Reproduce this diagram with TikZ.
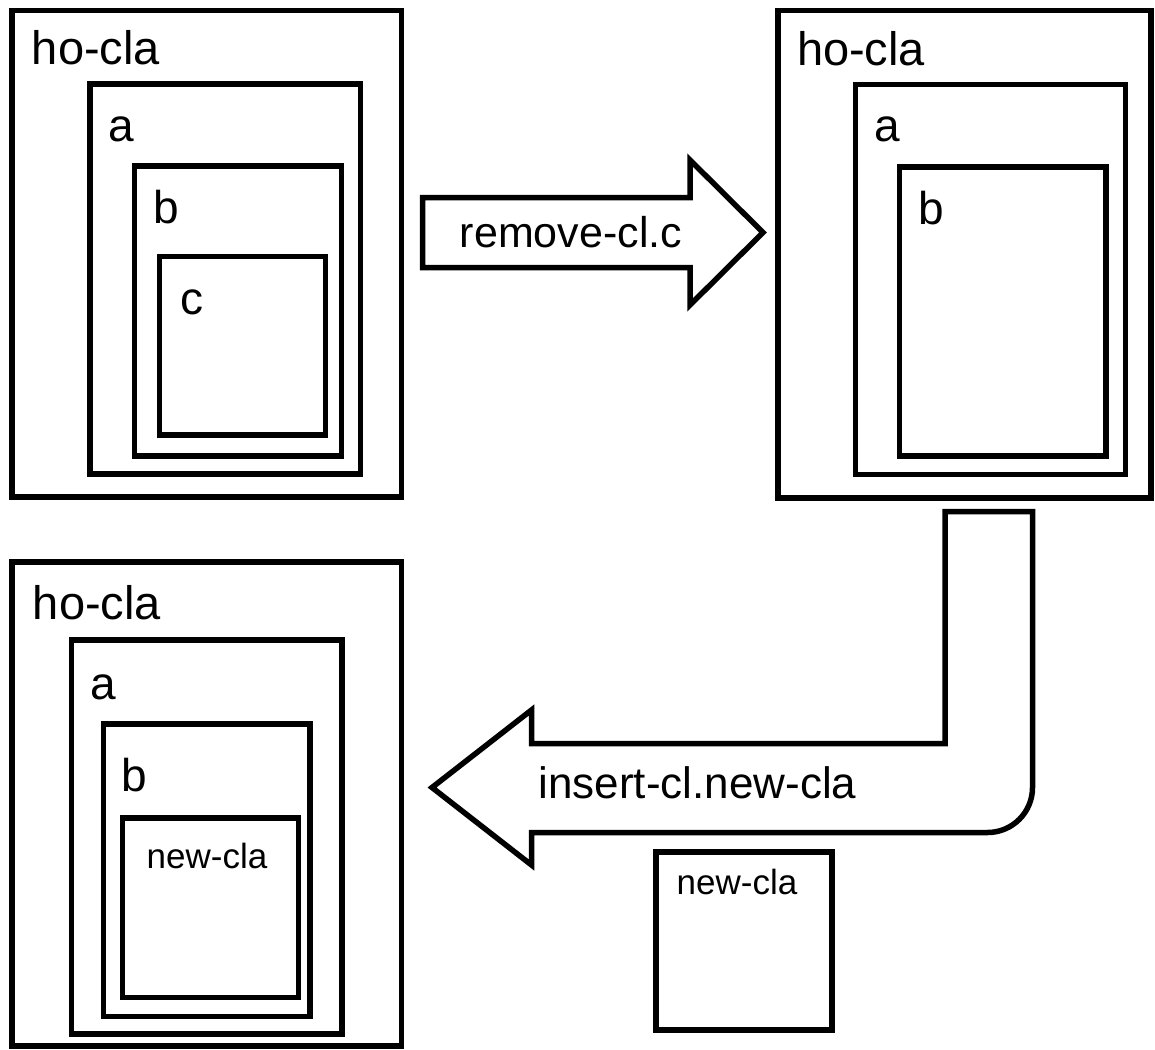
\documentclass[tikz,border=0pt]{standalone}
\usepackage{fontspec}
\setmainfont{Liberation Sans}
\usetikzlibrary{fit}
\begin{document}
\begin{tikzpicture}[x=1pt,y=-1pt,
  box/.style={draw=black,line width=5.5pt,inner sep=0pt,outer sep=0pt,rectangle},
  bigarrow/.style={draw=black,line width=5.5pt,line join=miter,fill=white},
  lbl/.style={anchor=base,inner sep=0pt,font=\fontsize{46}{50}\selectfont},
  holbl/.style={anchor=base,inner sep=0pt,font=\fontsize{47}{52}\selectfont},
  arrowlbl/.style={anchor=base,inner sep=0pt,font=\fontsize{43}{48}\selectfont},
  smalllbl/.style={anchor=base,inner sep=0pt,font=\fontsize{35}{40}\selectfont}]
\useasboundingbox (0,0) rectangle (1155,1049);

% top-left group
\node[box,fit={(12,10.5) (401.5,497)}] (ho1) {};
\node[box,fit={(90,84) (360.5,474)}] (a1) {};
\node[box,fit={(134.5,166) (341.5,456)}] (b1) {};
\node[box,fit={(159.5,256.5) (325.5,435)}] (c1) {};
\node[holbl] (ho1l) at (96,64) {ho-cla};
\node[lbl] (a1l) at (121.5,141) {a};
\node[lbl] (b1l) at (166.5,223) {b};
\node[lbl] (c1l) at (191.5,314) {c};

% top-right group
\node[box,fit={(778,10.5) (1151,498)}] (ho2) {};
\node[box,fit={(855.5,84.5) (1125.5,474.5)}] (a2) {};
\node[box,fit={(899.5,167) (1106,456)}] (b2) {};
\node[holbl] (ho2l) at (861,65) {ho-cla};
\node[lbl] (a2l) at (887.5,141) {a};
\node[lbl] (b2l) at (931,224) {b};

% bottom-left group
\node[box,fit={(12,562) (401.5,1046)}] (ho3) {};
\node[box,fit={(71.5,640) (342,1034)}] (a3) {};
\node[box,fit={(103.5,724) (310,1016.5)}] (b3) {};
\node[box,fit={(122.5,818) (298.5,997.5)}] (n3) {};
\node[holbl] (ho3l) at (97,619) {ho-cla};
\node[lbl] (a3l) at (103,699) {a};
\node[lbl] (b3l) at (134,791) {b};
\node[smalllbl] (n3l) at (207,868) {new-cla};

% standalone new-cla
\node[box,fit={(656,852) (832,1030)}] (n4) {};
\node[smalllbl] (n4l) at (737,894) {new-cla};

% right block arrow
\draw[bigarrow] (422.5,197.5) -- (690,197.5) -- (690,160) -- (763,232.5)
  -- (690,305) -- (690,267.5) -- (422.5,267.5) -- cycle;
\node[arrowlbl] (rml) at (571,247) {remove-cl.c};

% L-shaped block arrow
\draw[bigarrow] (945,511.5) -- (1032.5,511.5) -- (1032.5,787.5)
  arc[start angle=0,end angle=90,radius=45]
  -- (531.5,832.5) -- (531.5,865) -- (432,787.5) -- (531.5,710)
  -- (531.5,743.5) -- (945,743.5) -- cycle;
\node[lbl,font=\fontsize{44}{50}\selectfont] (insl) at (697.5,798) {insert-cl.new-cla};
\end{tikzpicture}
\end{document}
